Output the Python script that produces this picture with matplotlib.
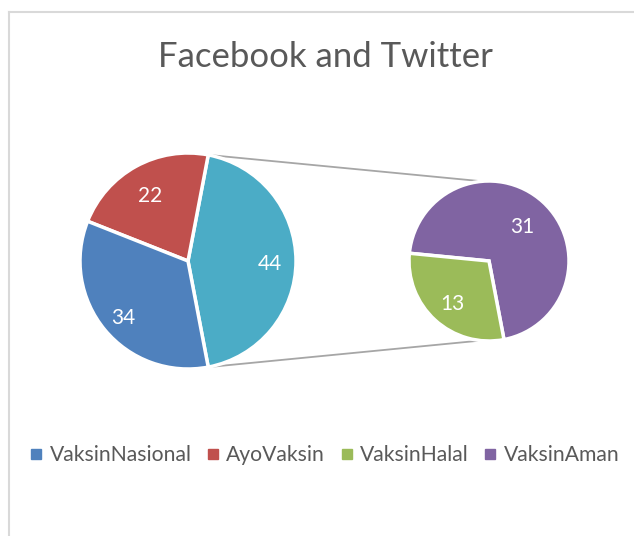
import matplotlib
matplotlib.use("Agg")
import matplotlib.pyplot as plt
from matplotlib.lines import Line2D
import math

plt.rcParams['font.family'] = ['Lato', 'DejaVu Sans']

# data
main_labels = ["VaksinNasional", "AyoVaksin"]
main_values = [34, 22]
sub_labels = ["VaksinHalal", "VaksinAman"]
sub_values = [13, 31]
colors = {"VaksinNasional": "#4F81BD", "AyoVaksin": "#C0504D",
          "VaksinHalal": "#9BBB59", "VaksinAman": "#8064A2"}
other_color = "#4BACC6"
title = "Facebook and Twitter"

W, H = 634, 536
fig = plt.figure(figsize=(W / 100, H / 100), dpi=100)
ax = fig.add_axes([0, 0, 1, 1])

other_total = sum(sub_values)
total = sum(main_values) + other_total
half = 180 * other_total / total      # "other" slice centred on the right
start = -half

c1 = (188, H - 261); r1 = 108
c2 = (489, H - 261); r2 = 80
wp = dict(edgecolor="white", linewidth=2.5)

# main pie: Other, AyoVaksin, VaksinNasional counter-clockwise from start
vals1 = [other_total, main_values[1], main_values[0]]
cols1 = [other_color, colors["AyoVaksin"], colors["VaksinNasional"]]
ax.pie(vals1, colors=cols1, startangle=start, center=c1, radius=r1,
       wedgeprops=wp, frame=True)

# secondary pie: VaksinAman, VaksinHalal
vals2 = [sub_values[1], sub_values[0]]
cols2 = [colors["VaksinAman"], colors["VaksinHalal"]]
ax.pie(vals2, colors=cols2, startangle=start, center=c2, radius=r2,
       wedgeprops=wp, frame=True)

# data labels
def put_labels(vals, center, radius, dists):
    a = start
    tot = sum(vals)
    for v, d in zip(vals, dists):
        span = 360 * v / tot
        mid = math.radians(a + span / 2)
        ax.text(center[0] + d * radius * math.cos(mid),
                center[1] + d * radius * math.sin(mid) - 3, str(v),
                color="white", fontsize=15, ha="center", va="center")
        a += span

put_labels(vals1, c1, r1, [0.76, 0.72, 0.78])
put_labels(vals2, c2, r2, [0.62, 0.68])

# connector lines
for sgn in (1, -1):
    a1 = math.radians(sgn * half)
    p1 = (c1[0] + r1 * math.cos(a1), c1[1] + r1 * math.sin(a1))
    a2 = math.radians(sgn * 95 if sgn > 0 else -96)
    p2 = (c2[0] + r2 * math.cos(a2), c2[1] + r2 * math.sin(a2))
    ax.plot([p1[0], p2[0]], [p1[1], p2[1]], color="#A6A6A6", lw=1.3, zorder=0)

# chart border (top + left visible)
ax.plot([9, W], [H - 12, H - 12], color="#D9D9D9", lw=1.5)
ax.plot([9, 9], [H - 12, 0], color="#D9D9D9", lw=1.5)

ax.text(325, H - 57, title, fontsize=25, color="#595959", ha="center", va="center")

legend_names = main_labels + sub_labels
handles = [Line2D([], [], marker="s", ls="", color=colors[n], markersize=7) for n in legend_names]
leg = ax.legend(handles, legend_names, ncol=4, loc="center",
                bbox_to_anchor=(325 / W, 1 - 455 / H), frameon=False,
                fontsize=15.2, handlelength=0.55, handletextpad=0.35,
                columnspacing=0.75, labelcolor="#595959")

ax.set_xlim(0, W)
ax.set_ylim(0, H)
ax.set_aspect("equal")
ax.axis("off")

fig.savefig("out.png", dpi=100, facecolor="white")
